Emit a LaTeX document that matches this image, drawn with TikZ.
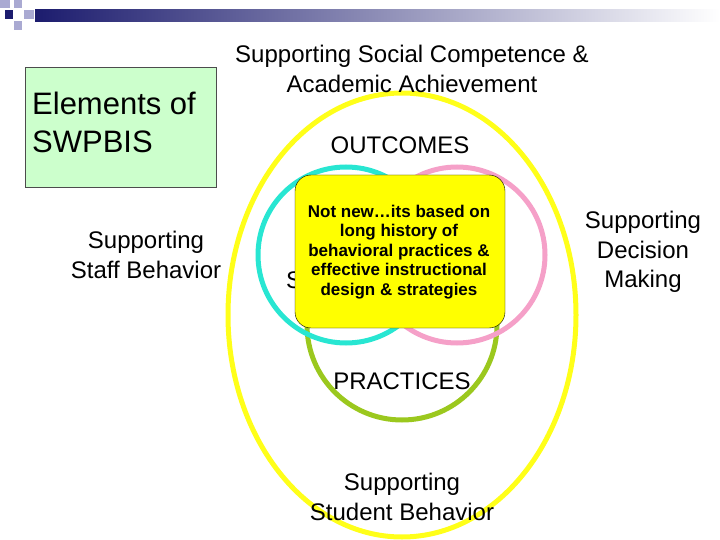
\documentclass[tikz,border=0pt]{standalone}
\usepackage{fontspec}
\setmainfont{Liberation Sans}
\begin{document}
\begin{tikzpicture}[x=1pt,y=-1pt,
  lbl/.style={align=center,font=\fontsize{24}{29.5}\selectfont,inner sep=0},
  ring/.style={line width=5pt}]
\useasboundingbox (0,0) rectangle (720,540);
\definecolor{navy}{RGB}{28,28,110}
\definecolor{lav}{RGB}{170,170,210}
\definecolor{cyanr}{RGB}{40,230,210}
\definecolor{pinkr}{RGB}{245,160,200}
\definecolor{greenr}{RGB}{155,200,30}
\definecolor{yel}{RGB}{255,255,0}
\definecolor{ltgreen}{RGB}{204,255,204}
% header
\shade[left color=navy,right color=white] (35,10) rectangle (720,22);
\fill[lav] (0,0) rectangle (10,8);
\fill[lav] (14,0) rectangle (22,8);
\fill[navy] (5,10) rectangle (13,19);
\fill[lav] (24,10) rectangle (34,19);
\fill[lav] (14,21) rectangle (22,30);
% rings
\draw[ring,yel!90!white] (402,315) ellipse [x radius=174,y radius=222];
\draw[ring,greenr] (402,325) circle (95);
\draw[ring,cyanr] (346,255) circle (88);
\draw[ring,pinkr] (457,255) circle (88);
\node[lbl,anchor=west] (sys) at (286,280) {SYSTEMS};
\node[draw=black,fill=yel,rounded corners=16,minimum width=210,minimum height=153] (box) at (400,251.5) {};
\node[align=center,font=\bfseries\fontsize{17}{19.5}\selectfont,inner sep=0] (boxt) at (399,252)
 {Not new\ldots its based on\\long history of\\behavioral practices \&\\effective instructional\\design \& strategies};
% labels
\node[lbl] (top) at (412,69) {Supporting Social Competence \&\\Academic Achievement};
\node[lbl] (out) at (400,145) {OUTCOMES};
\node[lbl] (prac) at (402,381) {PRACTICES};
\node[lbl] (stud) at (402,497) {Supporting\\Student Behavior};
\node[lbl] (staff) at (146,255) {Supporting\\Staff Behavior};
\node[lbl] (dec) at (643,252) {Supporting\\Decision\\Making};
\node[draw=black!70,fill=ltgreen,minimum width=191,minimum height=120,anchor=north west] (el) at (25,67) {};
\node[anchor=north west,align=left,font=\fontsize{31}{38}\selectfont,inner sep=0] (elt) at (32,92) {Elements of\\SWPBIS};
\end{tikzpicture}
\end{document}
